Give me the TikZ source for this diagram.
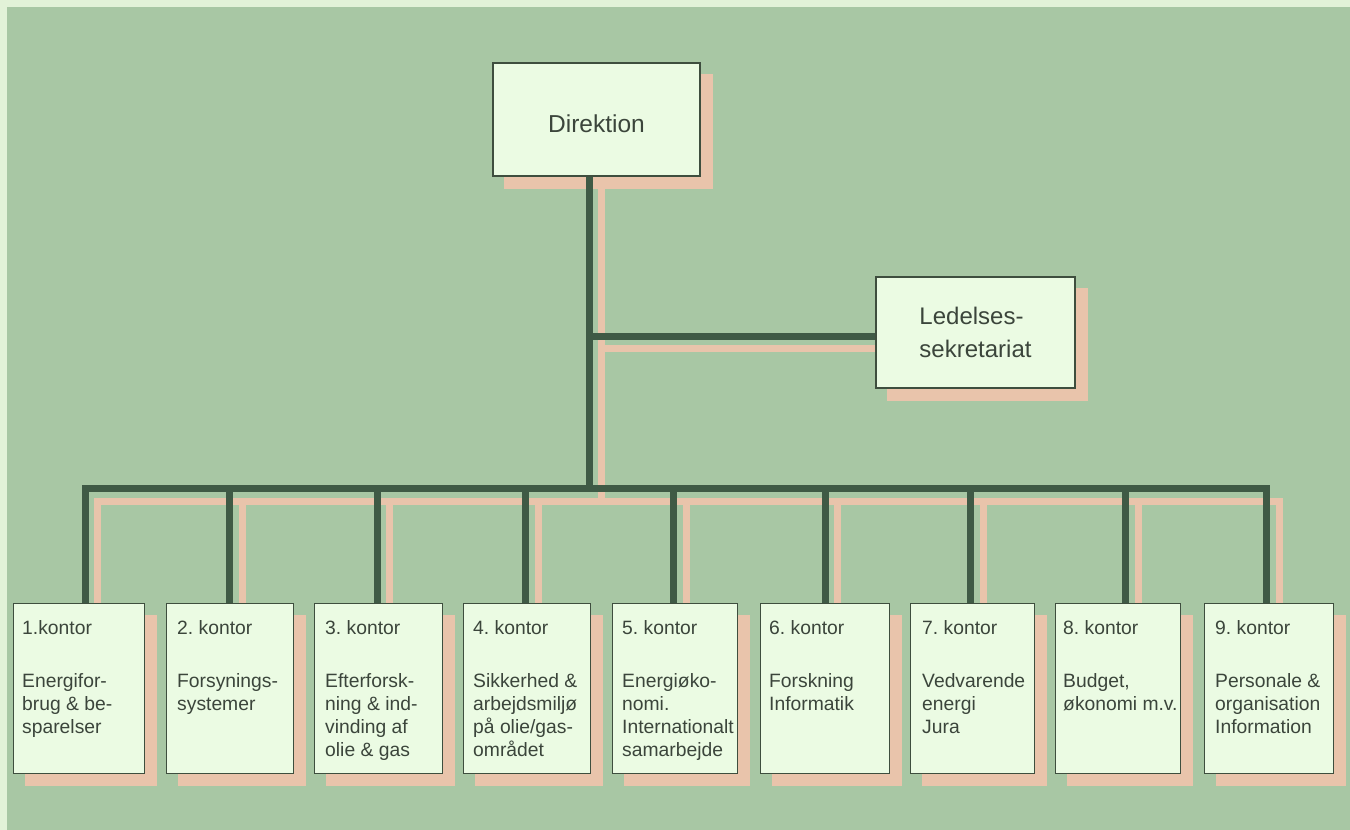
\documentclass[tikz,border=0pt]{standalone}
\usepackage{fontspec}
\setmainfont{Liberation Sans}
\frenchspacing
\definecolor{palec}{HTML}{E2F2D8}
\definecolor{bgc}{HTML}{A8C7A4}
\definecolor{boxfill}{HTML}{EBFBE3}
\definecolor{boxline}{HTML}{3E4E3E}
\definecolor{linec}{HTML}{3F5A45}
\definecolor{shadowc}{HTML}{E9C4AB}
\definecolor{textc}{HTML}{3B453B}
\pgfdeclarelayer{bglayer}
\pgfdeclarelayer{shadowlayer}
\pgfdeclarelayer{linelayer}
\pgfsetlayers{bglayer,shadowlayer,linelayer,main}
\tikzset{
  box/.style={draw=boxline, line width=1.1pt, fill=boxfill, inner sep=0pt, text=textc},
  kbox/.style={box, minimum height=170pt, anchor=north west},
  ktext/.style={anchor=north west, inner sep=0pt, align=left, text=textc, font=\fontsize{19.3}{23}\selectfont},
  conn/.style={draw=linec, line width=7pt, line join=miter},
  sconn/.style={draw=shadowc, line width=7pt, line join=miter, transform canvas={shift={(12.5pt,-12.5pt)}}},
  sbox/.style={fill=shadowc},
}
\begin{document}
\begin{tikzpicture}[x=1pt,y=-1pt]
\begin{pgfonlayer}{bglayer}
\fill[palec] (0,0) rectangle (1350,830);
\fill[bgc] (7,7) rectangle (1350,830);
\end{pgfonlayer}
\useasboundingbox (0,0) rectangle (1350,830);

% top boxes
\node[box, minimum width=207pt, minimum height=113pt, text height=25pt, text depth=0pt,
      font=\fontsize{24.5}{29}\selectfont] (dir) at (596.5,119.5) {Direktion};
\node[box, minimum width=199pt, minimum height=111pt, align=left,
      font=\fontsize{24}{33}\selectfont] (led) at (975.5,332.5) {Ledelses-\\sekretariat};

% office boxes
\node[kbox, minimum width=131pt] (k1) at (13,603) {};
\node[kbox, minimum width=127pt] (k2) at (166,603) {};
\node[kbox, minimum width=128pt] (k3) at (314,603) {};
\node[kbox, minimum width=127pt] (k4) at (463,603) {};
\node[kbox, minimum width=125pt] (k5) at (612,603) {};
\node[kbox, minimum width=129pt] (k6) at (760,603) {};
\node[kbox, minimum width=124pt] (k7) at (910,603) {};
\node[kbox, minimum width=125pt] (k8) at (1055,603) {};
\node[kbox, minimum width=129pt] (k9) at (1204,603) {};

\node[ktext] (t1) at ([xshift=9pt,yshift=-17pt]k1.north west) {1.kontor\\[30pt]Energifor-\\brug \& be-\\sparelser};
\node[ktext] (t2) at ([xshift=11pt,yshift=-17pt]k2.north west) {2. kontor\\[30pt]Forsynings-\\systemer};
\node[ktext] (t3) at ([xshift=11pt,yshift=-17pt]k3.north west) {3. kontor\\[30pt]Efterforsk-\\ning \& ind-\\vinding af\\olie \& gas};
\node[ktext] (t4) at ([xshift=10pt,yshift=-17pt]k4.north west) {4. kontor\\[30pt]Sikkerhed \&\\arbejdsmiljø\\på olie/gas-\\området};
\node[ktext] (t5) at ([xshift=10pt,yshift=-17pt]k5.north west) {5. kontor\\[30pt]Energiøko-\\nomi.\\Internationalt\\samarbejde};
\node[ktext] (t6) at ([xshift=9pt,yshift=-17pt]k6.north west) {6. kontor\\[30pt]Forskning\\Informatik};
\node[ktext] (t7) at ([xshift=12pt,yshift=-17pt]k7.north west) {7. kontor\\[30pt]Vedvarende\\energi\\Jura};
\node[ktext] (t8) at ([xshift=8pt,yshift=-17pt]k8.north west) {8. kontor\\[30pt]Budget,\\økonomi m.v.};
\node[ktext] (t9) at ([xshift=11pt,yshift=-17pt]k9.north west) {9. kontor\\[30pt]Personale \&\\organisation\\Information};

% junction coordinates
\coordinate (tb) at (589,488.5);
\coordinate (lj) at (589,336);
\coordinate (d1) at (85,488.5);
\coordinate (d2) at (229.5,488.5);
\coordinate (d3) at (377,488.5);
\coordinate (d4) at (525.5,488.5);
\coordinate (d5) at (673.5,488.5);
\coordinate (d6) at (825,488.5);
\coordinate (d7) at (970.5,488.5);
\coordinate (d8) at (1125.5,488.5);
\coordinate (d9) at (1266.5,488.5);

% shadows
\begin{pgfonlayer}{shadowlayer}
\foreach \n in {dir,led,k1,k2,k3,k4,k5,k6,k7,k8,k9}
  \fill[sbox] ([shift={(12pt,-12pt)}]\n.south west) rectangle ([shift={(12pt,-12pt)}]\n.north east);
\draw[sconn] (dir.south -| tb) -- (tb);
\draw[sconn] (lj) -- (lj -| led.west);
\draw[sconn] (d1 |- k1.north) -- (d1) -- (d9) -- (d9 |- k9.north);
\foreach \i in {2,...,8}
  \draw[sconn] (d\i) -- (d\i |- k\i.north);
\end{pgfonlayer}

% connectors
\begin{pgfonlayer}{linelayer}
\draw[conn] (dir.south -| tb) -- (tb);
\draw[conn] (lj) -- (lj -| led.west);
\draw[conn] (d1 |- k1.north) -- (d1) -- (d9) -- (d9 |- k9.north);
\foreach \i in {2,...,8}
  \draw[conn] (d\i) -- (d\i |- k\i.north);
\end{pgfonlayer}
\end{tikzpicture}
\end{document}
